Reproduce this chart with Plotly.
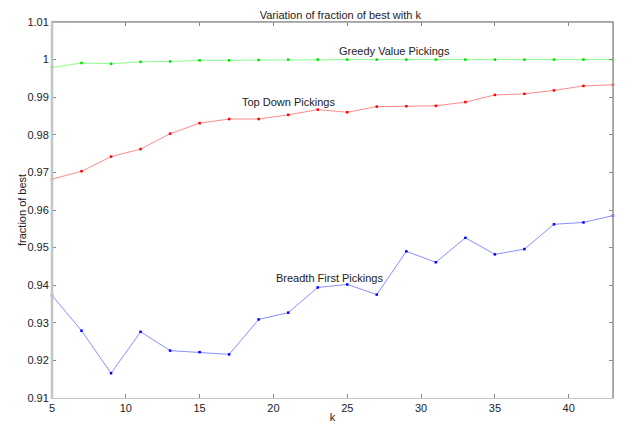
import plotly.graph_objects as go

k = [5, 7, 9, 11, 13, 15, 17, 19, 21, 23, 25, 27, 29, 31, 33, 35, 37, 39, 41, 43]

greedy = [0.9979, 0.9991, 0.9989, 0.9994, 0.9995, 0.9998, 0.9998, 0.9999, 1.0, 1.0,
          1.0, 1.0, 1.0, 1.0, 1.0, 1.0, 1.0, 1.0, 1.0, 1.0]
topdown = [0.9682, 0.9703, 0.9742, 0.9762, 0.9803, 0.9831, 0.9842, 0.9842, 0.9853, 0.9867,
           0.9860, 0.9875, 0.9876, 0.9877, 0.9887, 0.9906, 0.9909, 0.9918, 0.9930, 0.9933]
breadth = [0.9373, 0.9279, 0.9166, 0.9276, 0.9226, 0.9222, 0.9216, 0.9309, 0.9327, 0.9394,
           0.9402, 0.9375, 0.9490, 0.9461, 0.9526, 0.9482, 0.9496, 0.9562, 0.9567, 0.9585]

x_ticks = [5, 10, 15, 20, 25, 30, 35, 40]
y_ticks = [0.91, 0.92, 0.93, 0.94, 0.95, 0.96, 0.97, 0.98, 0.99, 1.0, 1.01]
y_labels = ["0.91", "0.92", "0.93", "0.94", "0.95", "0.96", "0.97", "0.98", "0.99", "1", "1.01"]

labels = ["Greedy Value Pickings", "Top Down Pickings", "Breadth First Pickings"]
label_x = [28.2, 21.05, 23.8]
label_y = [1.0023, 0.98885, 0.9419]

FONT = "Liberation Sans, Arial, Helvetica, sans-serif"

fig = go.Figure()
series = [
    (greedy, "#8cff8c", "#00e000"),
    (topdown, "#ff8c8c", "#ff0000"),
    (breadth, "#8c8cff", "#0000ff"),
]
for vals, lc, mc in series:
    fig.add_trace(go.Scatter(
        x=k, y=vals, mode="lines+markers",
        line=dict(color=lc, width=1),
        marker=dict(color=mc, size=2.5, symbol="square", line=dict(width=0)),
        showlegend=False, cliponaxis=False,
    ))

for t, xx, yy in zip(labels, label_x, label_y):
    fig.add_annotation(x=xx, y=yy, text=t, showarrow=False,
                       font=dict(family=FONT, size=11, color="#222222"))

# y-axis title
fig.add_annotation(xref="paper", yref="paper", x=0, y=0.5, xshift=-30,
                   xanchor="center", yanchor="middle",
                   text="fraction of best", textangle=-90, showarrow=False,
                   font=dict(family=FONT, size=11, color="#222222"))

# frame
fig.add_shape(type="line", xref="paper", yref="paper", x0=0, x1=1, y0=1, y1=1,
              line=dict(color="#999999", width=1.5))
fig.add_shape(type="line", xref="paper", yref="paper", x0=1, x1=1, y0=0, y1=1,
              line=dict(color="#999999", width=1.5))
fig.add_shape(type="line", xref="paper", yref="paper", x0=0, x1=0, y0=0, y1=1,
              line=dict(color="#c4c4c4", width=2.5))

fig.update_layout(
    width=641, height=424,
    margin=dict(l=44, r=36, t=14, b=34, autoexpand=False),
    paper_bgcolor="white", plot_bgcolor="white",
    font=dict(family=FONT, size=11, color="#222222"),
    title=dict(text="Variation of fraction of best with k", x=0.5185, xanchor="center",
               y=1 - 7 / 424, yanchor="middle", font=dict(family=FONT, size=11)),
    xaxis=dict(range=[5, 43], tickvals=x_ticks, ticks="inside", ticklen=4,
               tickcolor="#888888", showgrid=False, zeroline=False, automargin=False,
               showline=True, linecolor="#c4c4c4", linewidth=1, mirror="allticks",
               title=dict(text="k", standoff=0, font=dict(size=11)),
               tickfont=dict(size=11)),
    yaxis=dict(range=[0.91, 1.01], tickvals=y_ticks, ticktext=y_labels, ticks="inside",
               ticklen=4, tickcolor="#888888", showgrid=False, zeroline=False, automargin=False,
               showline=True, linecolor="#c4c4c4", linewidth=1, mirror="allticks",
               tickfont=dict(size=11)),
)

fig.write_html("out.html")
